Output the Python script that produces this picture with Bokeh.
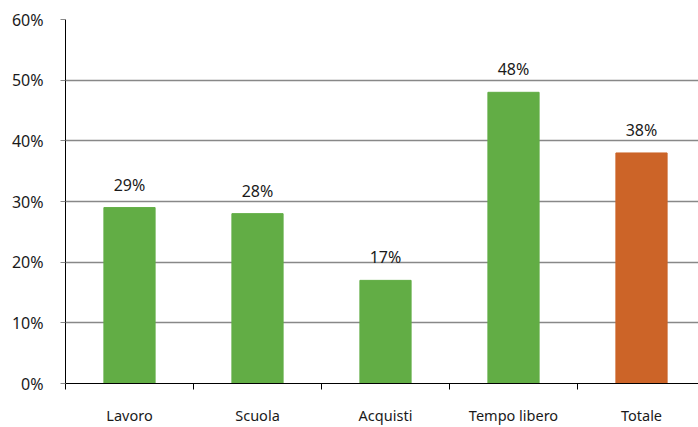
from bokeh.plotting import figure
from bokeh.models import Range1d, FixedTicker, ColumnDataSource
from bokeh.core.properties import value
from bokeh.embed import file_html
from bokeh.resources import INLINE

categories = ["Lavoro", "Scuola", "Acquisti", "Tempo libero", "Totale"]
values = [29, 28, 17, 48, 38]
colors = ["#62ad45", "#62ad45", "#62ad45", "#62ad45", "#cc6428"]
y_ticks = [0, 10, 20, 30, 40, 50, 60]

FONT = "Noto Sans"

xs = [i + 0.5 for i in range(len(categories))]
src = ColumnDataSource(dict(x=xs, top=values, color=colors,
                            label=[f"{v}%" for v in values]))

p = figure(width=698, height=427, output_backend="svg", toolbar_location=None,
           x_range=Range1d(0, 633 / 128), y_range=Range1d(0, 60),
           min_border_left=65, min_border_right=0, min_border_top=19, min_border_bottom=43)
p.outline_line_color = None
p.background_fill_color = "white"

p.vbar(x="x", top="top", bottom=0, width=0.4, color="color", source=src)
p.text(x="x", y="top", text="label", source=src, text_align="center",
       text_baseline="bottom", y_offset=-12, text_font=value(FONT),
       text_font_size="16px", text_color="#1a1a1a")

# x axis
p.xaxis.ticker = FixedTicker(ticks=xs, minor_ticks=[0, 1, 2, 3, 4, 5])
p.xaxis.major_label_overrides = {x: c for x, c in zip(xs, categories)}
p.xaxis.major_tick_line_color = None
p.xaxis.major_tick_out = 0
p.xaxis.major_tick_in = 0
p.xaxis.minor_tick_out = 6
p.xaxis.minor_tick_in = 0
p.xaxis.minor_tick_line_color = "black"
p.xaxis.axis_line_color = "black"
p.xaxis.major_label_standoff = 15
p.xaxis.major_label_text_font = FONT
p.xaxis.major_label_text_font_size = "14.5px"
p.xaxis.major_label_text_color = "#1a1a1a"

# y axis
p.yaxis.ticker = FixedTicker(ticks=y_ticks)
p.yaxis.major_label_overrides = {t: f"{t}%" for t in y_ticks}
p.yaxis.minor_tick_line_color = None
p.yaxis.major_tick_out = 5
p.yaxis.major_tick_in = 0
p.yaxis.major_tick_line_color = "#888888"
p.yaxis.axis_line_color = "black"
p.yaxis.major_label_standoff = 17
p.yaxis.major_label_text_font = FONT
p.yaxis.major_label_text_font_size = "16px"
p.yaxis.major_label_text_color = "#1a1a1a"

p.xgrid.grid_line_color = None
p.ygrid.ticker = FixedTicker(ticks=y_ticks)
p.ygrid.grid_line_color = "#888888"
p.ygrid.grid_line_width = 1.5

open("out.html", "w").write(file_html(p, INLINE))
